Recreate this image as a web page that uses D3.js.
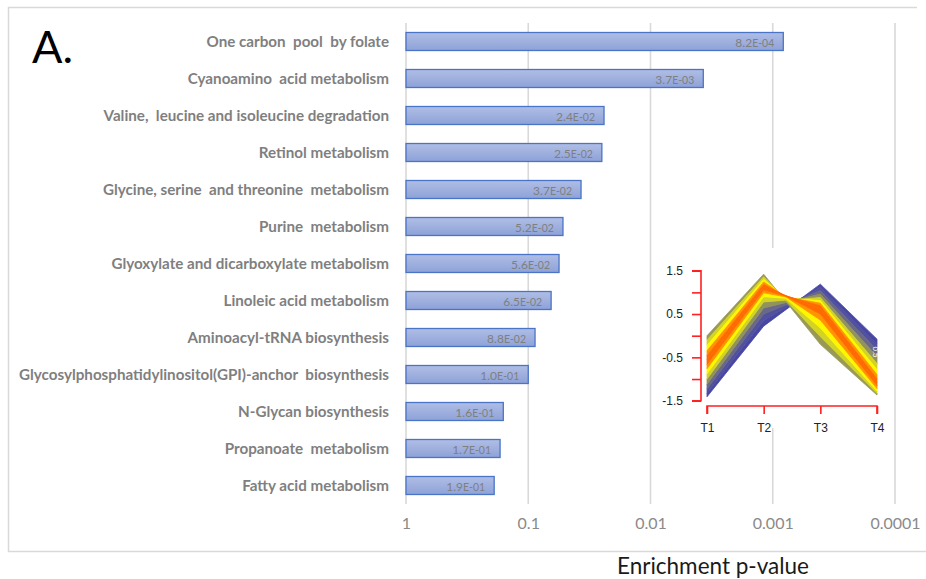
<!DOCTYPE html>
<html>
<head>
<meta charset="utf-8">
<script src="https://cdn.jsdelivr.net/npm/d3@7/dist/d3.min.js"></script>
<style>
  html, body { margin: 0; padding: 0; background: #ffffff; }
  svg { display: block; }
</style>
</head>
<body>
<svg id="chart" width="926" height="579"></svg>
<script>
// KEGG pathway enrichment (bar chart) and cluster profile (inset)
const categories = [
  "One carbon  pool  by folate",
  "Cyanoamino  acid metabolism",
  "Valine,  leucine and isoleucine degradation",
  "Retinol metabolism",
  "Glycine, serine  and threonine  metabolism",
  "Purine  metabolism",
  "Glyoxylate and dicarboxylate metabolism",
  "Linoleic acid metabolism",
  "Aminoacyl-tRNA biosynthesis",
  "Glycosylphosphatidylinositol(GPI)-anchor  biosynthesis",
  "N-Glycan biosynthesis",
  "Propanoate  metabolism",
  "Fatty acid metabolism"
];
const pValues = [8.2e-4, 3.7e-3, 2.4e-2, 2.5e-2, 3.7e-2, 5.2e-2, 5.6e-2, 6.5e-2, 8.8e-2, 1.0e-1, 1.6e-1, 1.7e-1, 1.9e-1];
const xTickValues = [1, 0.1, 0.01, 0.001, 0.0001];
const xTickLabels = ["1", "0.1", "0.01", "0.001", "0.0001"];

// Inset: expression profiles of the cluster members (T1..T4) and their membership
const timePoints = ["T1", "T2", "T3", "T4"];
const profileMembership = [0.45, 0.55, 0.68, 0.82, 0.93, 1.0, 0.93, 0.82, 0.68, 0.55, 0.42, 0.3, 0.18, 0.08];
const profileValues = [
  [0.00, 1.42, -0.20, -1.37],
  [-0.10, 1.36, -0.02, -1.33],
  [-0.22, 1.30, 0.18, -1.28],
  [-0.35, 1.24, 0.36, -1.22],
  [-0.46, 1.18, 0.50, -1.15],
  [-0.56, 1.12, 0.62, -1.08],
  [-0.66, 1.06, 0.69, -1.00],
  [-0.76, 0.99, 0.75, -0.90],
  [-0.88, 0.90, 0.81, -0.78],
  [-1.00, 0.78, 0.88, -0.64],
  [-1.12, 0.64, 0.96, -0.48],
  [-1.23, 0.50, 1.04, -0.33],
  [-1.33, 0.35, 1.12, -0.19],
  [-1.41, 0.22, 1.19, -0.08]
];
const insetTicks = [-1.5, -1, -0.5, 0, 0.5, 1, 1.5];
const insetTickLabels = { "-1.5": "-1.5", "-0.5": "-0.5", "0.5": "0.5", "1.5": "1.5" };

const svg = d3.select("#chart");
const gray = "#7f7f7f";
const gridColor = "#d9d9d9";
const font = "Lato, 'Open Sans', sans-serif";

// outer frame (left, top, bottom)
svg.append("path")
  .attr("d", "M917,7.5 H8.5 V551.5 H926")
  .attr("fill", "none").attr("stroke", gridColor).attr("stroke-width", 1.5);

// scales
const x = d3.scaleLog().domain([1, 1e-4]).range([406, 895]);
const y = d3.scaleBand().domain(categories).range([23, 504]);
const barH = 18;

// bar gradient
const defs = svg.append("defs");
const grad = defs.append("linearGradient").attr("id", "barFill")
  .attr("x1", 0).attr("y1", 0).attr("x2", 0).attr("y2", 1);
grad.append("stop").attr("offset", "0%").attr("stop-color", "#b0bee5");
grad.append("stop").attr("offset", "100%").attr("stop-color", "#8ea2d8");
defs.append("filter").attr("id", "soft").attr("x", "-5%").attr("y", "-5%")
  .attr("width", "110%").attr("height", "110%")
  .append("feGaussianBlur").attr("stdDeviation", 0.7);

// vertical gridlines
svg.append("g").selectAll("line").data(xTickValues).join("line")
  .attr("x1", d => x(d)).attr("x2", d => x(d))
  .attr("y1", 23).attr("y2", 504)
  .attr("stroke", gridColor).attr("stroke-width", 1.6);

// bars
const bars = svg.append("g");
bars.selectAll("rect").data(pValues).join("rect")
  .attr("x", x(1))
  .attr("y", (d, i) => y(categories[i]) + (y.bandwidth() - barH) / 2)
  .attr("width", d => x(d) - x(1))
  .attr("height", barH)
  .attr("fill", "url(#barFill)")
  .attr("stroke", "#4a74c6").attr("stroke-width", 1.3);

// value labels inside bars
function sci(v) {
  const [m, e] = v.toExponential(1).split("e");
  const n = Math.abs(+e);
  return [m, "E" + (+e < 0 ? "-" : "+") + (n < 10 ? "0" : "") + n];
}
const vlab = bars.selectAll("text").data(pValues).join("text")
  .attr("x", d => x(d) - 9)
  .attr("y", (d, i) => y(categories[i]) + y.bandwidth() / 2)
  .attr("dy", "0.36em")
  .attr("text-anchor", "end")
  .attr("font-family", font)
  .attr("fill", gray);
vlab.append("tspan").attr("font-size", 12).text(d => sci(d)[0]);
vlab.append("tspan").attr("font-size", 10.5).text(d => sci(d)[1]);

// category labels
svg.append("g").selectAll("text").data(categories).join("text")
  .attr("x", 389)
  .attr("y", d => y(d) + y.bandwidth() / 2)
  .attr("dy", "0.35em")
  .attr("text-anchor", "end")
  .attr("font-family", font)
  .attr("font-weight", "bold")
  .attr("font-size", 15.2)
  .attr("fill", gray)
  .attr("xml:space", "preserve")
  .style("white-space", "pre")
  .text(d => d);

// x axis labels
const xAxis = d3.axisBottom(x).tickValues(xTickValues)
  .tickFormat((d, i) => xTickLabels[i]).tickSize(0).tickPadding(13.5);
const gx = svg.append("g").attr("transform", "translate(0,504)").call(xAxis);
gx.select(".domain").remove();
gx.selectAll("text").attr("font-family", font)
  .attr("font-size", 16).attr("fill", "#8a8a8a");

// axis title
svg.append("text").attr("x", 713).attr("y", 574).attr("text-anchor", "middle")
  .attr("font-family", font).attr("font-size", 22.5)
  .attr("fill", "#1a1a1a").text("Enrichment p-value");

// panel letter
svg.append("text").attr("x", 32).attr("y", 63)
  .attr("font-family", font).attr("font-size", 45)
  .attr("fill", "#000").text("A.");

// ---- inset cluster plot ----
const inset = svg.append("g");
inset.append("rect").attr("x", 656).attr("y", 248).attr("width", 232).attr("height", 180)
  .attr("fill", "#ffffff");

const ix = d3.scalePoint().domain(timePoints).range([707, 877]);
const iy = d3.scaleLinear().domain([-1.5, 1.5]).range([400.7, 270.7]);
const memColor = d3.scaleLinear()
  .domain([0, 0.3, 0.48, 0.62, 0.74, 0.86, 1.0])
  .range(["#3b3ba9", "#56569c", "#8f8f5e", "#d6d624", "#ffff00", "#ff9a00", "#ff5a00"])
  .interpolate(d3.interpolateRgb);

// strips between neighbouring profiles, low membership drawn first
const strips = [];
for (let i = 0; i < profileValues.length - 1; i++) {
  strips.push({
    a: profileValues[i], b: profileValues[i + 1],
    m: (profileMembership[i] + profileMembership[i + 1]) / 2
  });
}
strips.sort((p, q) => p.m - q.m);
const band = inset.append("g").attr("filter", "url(#soft)");
band.selectAll("path").data(strips).join("path")
  .attr("d", s => {
    const pts = s.a.map((v, i) => [ix(timePoints[i]), iy(v)])
      .concat(s.b.map((v, i) => [ix(timePoints[i]), iy(v)]).reverse());
    return "M" + pts.join("L") + "Z";
  })
  .attr("fill", s => memColor(s.m))
  .attr("stroke", s => memColor(s.m)).attr("stroke-width", 0.8)
  .attr("stroke-linejoin", "round");

// partially hidden colour-key label
inset.append("text").attr("transform", "translate(873,352) rotate(90)")
  .attr("text-anchor", "middle").attr("font-family", "Liberation Sans, Arial, sans-serif")
  .attr("font-size", 8).attr("fill", "#ffffff").text("0.5");

// inset axes
const red = "#ff2020";
const iyAxis = d3.axisLeft(iy).tickValues(insetTicks)
  .tickFormat(d => insetTickLabels[String(d)] || "").tickSize(9).tickPadding(9);
const giy = inset.append("g").attr("transform", "translate(701,0)").call(iyAxis);
giy.select(".domain").attr("stroke", red).attr("stroke-width", 1.6)
  .attr("d", `M-9,${iy(1.5)}H0V${iy(-1.5)}H-9`);
giy.selectAll(".tick line").attr("stroke", red).attr("stroke-width", 1.6);
giy.selectAll("text").attr("font-family", "Liberation Sans, Arial, sans-serif")
  .attr("font-size", 12).attr("fill", "#222");

const ixAxis = d3.axisBottom(ix).tickSize(8).tickPadding(9);
const gix = inset.append("g").attr("transform", "translate(0,406)").call(ixAxis);
gix.select(".domain").attr("stroke", red).attr("stroke-width", 1.6)
  .attr("d", `M${ix("T1")},8V0H${ix("T4")}V8`);
gix.selectAll(".tick line").attr("stroke", red).attr("stroke-width", 1.6);
gix.selectAll("text").attr("font-family", "Liberation Sans, Arial, sans-serif")
  .attr("font-size", 12).attr("fill", "#222");
</script>
</body>
</html>
